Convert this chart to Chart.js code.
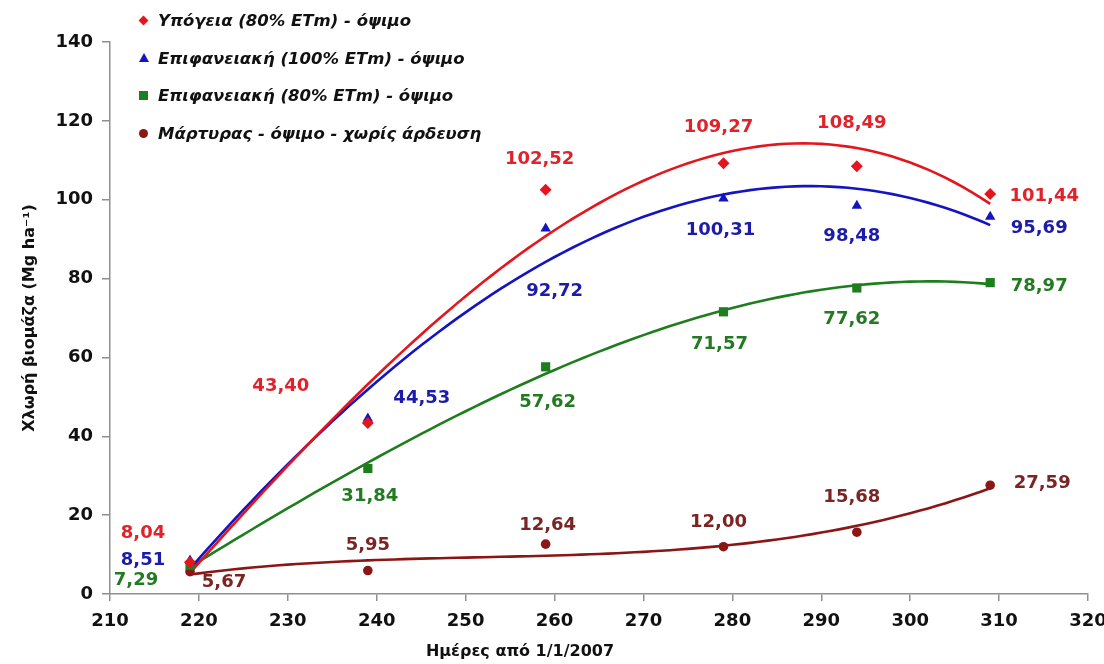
<!DOCTYPE html>
<html>
<head>
<meta charset="utf-8">
<script src="https://cdn.jsdelivr.net/npm/chart.js@4.4.1/dist/chart.umd.min.js"></script>
<style>
  html, body { margin: 0; padding: 0; background: #fff; }
  #wrap { position: relative; width: 1104px; height: 664px; overflow: hidden; }
  #chart { position: absolute; left: 0; top: 0; }
  #legend { position: absolute; left: 136px; top: 2px; font: italic bold 16.5px "DejaVu Sans", sans-serif; color: #111; }
  #legend .row { height: 37.6px; display: flex; align-items: center; white-space: nowrap; }
  #legend .mk { width: 16px; height: 16px; position: relative; margin-right: 6px; flex: none; }
  #legend .mk i { position: absolute; display: block; }
  #xtitle { position: absolute; left: 520px; top: 641px; transform: translateX(-50%); font: bold 16px "DejaVu Sans", sans-serif; color: #111; white-space: nowrap; }
</style>
</head>
<body>
<div id="wrap">
  <canvas id="chart" width="1104" height="664"></canvas>
  <div id="legend"></div>
  <div id="xtitle"></div>
</div>
<script>
// ---------------- data ----------------
const days = [219, 239, 259, 279, 294, 309];
const ypogeia80 = [8.04, 43.40, 102.52, 109.27, 108.49, 101.44];
const epifaneiaki100 = [8.51, 44.53, 92.72, 100.31, 98.48, 95.69];
const epifaneiaki80 = [7.29, 31.84, 57.62, 71.57, 77.62, 78.97];
const martyras = [5.67, 5.95, 12.64, 12.00, 15.68, 27.59];
const seriesNames = [
  'Υπόγεια (80% ETm) - όψιμο',
  'Επιφανειακή (100% ETm) - όψιμο',
  'Επιφανειακή (80% ETm) - όψιμο',
  'Μάρτυρας - όψιμο - χωρίς άρδευση'
];
const xTickValues = [210, 220, 230, 240, 250, 260, 270, 280, 290, 300, 310, 320];
const yTickValues = [0, 20, 40, 60, 80, 100, 120, 140];
const xAxisTitle = 'Ημέρες από 1/1/2007';
const yAxisTitle = 'Χλωρή βιομάζα (Mg ha⁻¹)';

// ---------------- styles / label placement (pixels, relative to point) ----------------
const seriesValues = [ypogeia80, epifaneiaki100, epifaneiaki80, martyras];
const markerColors = ['#E3161E', '#1414C0', '#1E7E1E', '#8A1616'];
const labelColors  = ['#E0232B', '#1C1CA8', '#237A23', '#7A2424'];
const markerStyles = ['rectRot', 'triangle', 'rect', 'circle'];
const markerRadius = [6, 6, 6.5, 4.8];
const labelOffsets = [
  [[-47, -29], [-87, -37], [-6, -30], [-5, -36], [-5, -43], [54, 2]],
  [[-47, 0], [54, -20], [9, 63], [-3, 32], [-5, 31], [49, 12]],
  [[-54, 15], [2, 28], [2, 36], [-4, 33], [-5, 31], [49, 4]],
  [[34, 11], [0, -25], [2, -19], [-5, -24], [-5, -35], [52, -2]]
];

// least-squares polynomial trendline (as in the spreadsheet chart)
function polyfit(xs, ys, deg) {
  const xm = xs.reduce((a, b) => a + b, 0) / xs.length;
  const n = deg + 1;
  const A = Array.from({ length: n }, () => Array(n + 1).fill(0));
  xs.forEach((x, k) => {
    const u = (x - xm) / 10;
    for (let i = 0; i < n; i++) {
      for (let j = 0; j < n; j++) A[i][j] += Math.pow(u, i + j);
      A[i][n] += ys[k] * Math.pow(u, i);
    }
  });
  for (let i = 0; i < n; i++) {
    let p = i;
    for (let r = i + 1; r < n; r++) if (Math.abs(A[r][i]) > Math.abs(A[p][i])) p = r;
    [A[i], A[p]] = [A[p], A[i]];
    for (let r = 0; r < n; r++) {
      if (r === i) continue;
      const f = A[r][i] / A[i][i];
      for (let c = i; c <= n; c++) A[r][c] -= f * A[i][c];
    }
  }
  const coef = A.map((row, i) => row[n] / row[i]);
  return x => { const u = (x - xm) / 10; return coef.reduce((s, c, i) => s + c * Math.pow(u, i), 0); };
}

const fmt = v => v.toFixed(2).replace('.', ',');

const datasets = [];
seriesValues.forEach((vals, s) => {
  const f = polyfit(days, vals, 3);
  const pts = [];
  for (let x = days[0]; x <= days[days.length - 1]; x += 1) pts.push({ x, y: f(x) });
  datasets.push({
    type: 'line', label: seriesNames[s] + ' trend', data: pts, borderColor: markerColors[s],
    borderWidth: 2.6, pointRadius: 0, tension: 0, fill: false, order: 2, isTrend: true
  });
});
seriesValues.forEach((vals, s) => {
  datasets.push({
    type: 'scatter', label: seriesNames[s], data: days.map((d, i) => ({ x: d, y: vals[i] })),
    backgroundColor: markerColors[s], borderColor: markerColors[s], borderWidth: 0,
    pointStyle: markerStyles[s], pointRadius: markerRadius[s], order: 1,
    valueLabels: true, labelColor: labelColors[s], labelOffsets: labelOffsets[s]
  });
});

const valueLabelPlugin = {
  id: 'valueLabels',
  afterDatasetsDraw(chart) {
    const ctx = chart.ctx;
    ctx.save();
    ctx.font = 'bold 18px "DejaVu Sans", sans-serif';
    ctx.textAlign = 'center';
    ctx.textBaseline = 'middle';
    chart.data.datasets.forEach((ds, di) => {
      if (!ds.valueLabels) return;
      const meta = chart.getDatasetMeta(di);
      meta.data.forEach((pt, i) => {
        const off = ds.labelOffsets[i];
        ctx.fillStyle = ds.labelColor;
        ctx.fillText(fmt(ds.data[i].y), pt.x + off[0], pt.y + off[1]);
      });
    });
    ctx.restore();
  }
};

const axisGray = '#8f8f8f';
const tickFont = { family: '"DejaVu Sans", sans-serif', size: 18, weight: 'bold' };

new Chart(document.getElementById('chart'), {
  type: 'scatter',
  data: { datasets },
  options: {
    responsive: false,
    animation: false,
    devicePixelRatio: 1,
    layout: { padding: { top: 42, right: 16, left: 0, bottom: 0 } },
    plugins: { legend: { display: false }, tooltip: { enabled: false } },
    scales: {
      x: {
        type: 'linear',
        min: xTickValues[0], max: xTickValues[xTickValues.length - 1],
        afterBuildTicks: s => { s.ticks = xTickValues.map(v => ({ value: v })); },
        ticks: { font: tickFont, color: '#111', padding: 10, maxRotation: 0 },
        grid: { drawOnChartArea: false, drawTicks: true, tickLength: 7, color: axisGray, lineWidth: 1.5 },
        border: { display: true, color: axisGray, width: 1.5 },
        afterFit: s => { s.height = 70; s.paddingRight = 0; s.paddingLeft = 0; }
      },
      y: {
        min: yTickValues[0], max: yTickValues[yTickValues.length - 1],
        afterBuildTicks: s => { s.ticks = yTickValues.map(v => ({ value: v })); },
        ticks: { font: tickFont, color: '#111', padding: 9 },
        grid: { drawOnChartArea: false, drawTicks: true, tickLength: 8, color: axisGray, lineWidth: 1.5 },
        border: { display: true, color: axisGray, width: 1.5 },
        title: { display: true, text: yAxisTitle, color: '#111',
                 font: { family: '"DejaVu Sans", sans-serif', size: 16, weight: 'bold' },
                 padding: { top: 20, bottom: 4 } },
        afterFit: s => { s.width = 110; s.paddingTop = 0; s.paddingBottom = 0; }
      }
    }
  },
  plugins: [valueLabelPlugin]
});

// legend (HTML, real text)
const legendEl = document.getElementById('legend');
seriesNames.forEach((name, s) => {
  const row = document.createElement('div');
  row.className = 'row';
  const mk = document.createElement('span');
  mk.className = 'mk';
  const i = document.createElement('i');
  const c = markerColors[s];
  if (markerStyles[s] === 'rectRot') {
    Object.assign(i.style, { width: '7px', height: '7px', background: c, left: '4px', top: '4.5px', transform: 'rotate(45deg)' });
  } else if (markerStyles[s] === 'triangle') {
    Object.assign(i.style, { width: '0', height: '0', left: '3px', top: '3px', borderLeft: '5px solid transparent', borderRight: '5px solid transparent', borderBottom: '9px solid ' + c });
  } else if (markerStyles[s] === 'rect') {
    Object.assign(i.style, { width: '9px', height: '9px', background: c, left: '3px', top: '3.5px' });
  } else {
    Object.assign(i.style, { width: '9px', height: '9px', background: c, left: '3px', top: '3.5px', borderRadius: '50%' });
  }
  mk.appendChild(i);
  row.appendChild(mk);
  const t = document.createElement('span');
  t.textContent = name;
  row.appendChild(t);
  legendEl.appendChild(row);
});
document.getElementById('xtitle').textContent = xAxisTitle;
</script>
</body>
</html>
